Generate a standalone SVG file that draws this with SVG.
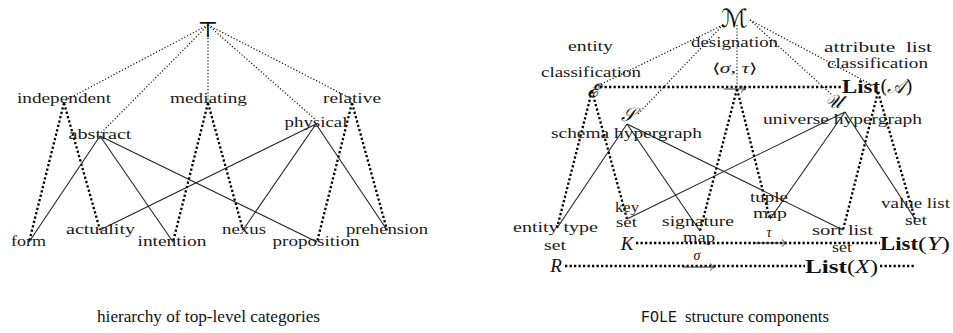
<svg xmlns="http://www.w3.org/2000/svg" width="953" height="333" viewBox="0 0 953 333">
<style>
  .lbl{font-family:"Liberation Serif",serif;font-size:14px;fill:#1a1a1a}
  .cap{font-family:"Liberation Serif",serif;font-size:17px;fill:#111}
  .mono{font-family:"Liberation Mono",monospace;font-size:17px;fill:#111}
  .math{font-family:"Liberation Serif",serif;font-style:italic;fill:#111}
  .cal{font-family:"DejaVu Serif","DejaVu Sans",serif;fill:#111}
  .bold{font-family:"Liberation Serif",serif;font-weight:bold;fill:#111}
  .thin{fill:none;stroke:#111;stroke-width:1.2;stroke-dasharray:1.2 2}
  .thick{fill:none;stroke:#000;stroke-width:2.3;stroke-dasharray:2.3 2.2}
  .solid{fill:none;stroke:#222;stroke-width:1.1}
  .arr{fill:none;stroke:#333;stroke-width:1;marker-end:url(#hook)}
</style>
<defs>
  <marker id="hook" markerWidth="8" markerHeight="8" refX="6" refY="4" orient="auto" markerUnits="userSpaceOnUse">
    <path d="M1,0.5 Q3.5,3.5 6,4 Q3.5,4.5 1,7.5" fill="none" stroke="#333" stroke-width="1"/>
  </marker>
</defs>
<rect width="953" height="333" fill="#fff"/>

<g id="connectors">
  <!-- left: top to mid -->
  <path class="thin" d="M208,25 L64,101"/>
  <path class="thin" d="M208,25 L100,134"/>
  <path class="thin" d="M208,25 L208,103"/>
  <path class="thin" d="M208,25 L316,120"/>
  <path class="thin" d="M208,25 L352,99"/>
  <!-- left: thick dotted -->
  <path class="thick" d="M64,103 L29,242"/>
  <path class="thick" d="M64,103 L100,230"/>
  <path class="thick" d="M208,103 L173,242"/>
  <path class="thick" d="M208,103 L243,230"/>
  <path class="thick" d="M352,103 L317,242"/>
  <path class="thick" d="M352,103 L387,230"/>
  <!-- left: solid -->
  <path class="solid" d="M100,136 L29,242"/>
  <path class="solid" d="M100,136 L173,242"/>
  <path class="solid" d="M100,136 L317,242"/>
  <path class="solid" d="M316,124 L100,230"/>
  <path class="solid" d="M316,124 L243,230"/>
  <path class="solid" d="M316,124 L387,230"/>

  <!-- right: top to mid -->
  <path class="thin" d="M723,25 L593,88"/>
  <path class="thin" d="M723,25 L637,115"/>
  <path class="thin" d="M737,25 L737,87"/>
  <path class="thin" d="M750,20 L832,95"/>
  <path class="thin" d="M750,20 L874,86"/>
  <!-- right: horizontal thick dotted -->
  <path class="thick" d="M600,87 L842,87"/>
  <path class="thick" d="M636,243 L880,243"/>
  <path class="thick" d="M565,266 L805,266 M880,266 L915,266"/>
  <!-- right: thick dotted mid to bottom -->
  <path class="thick" d="M592,91 L557,228"/>
  <path class="thick" d="M592,91 L627,219"/>
  <path class="thick" d="M737,89 L700,231"/>
  <path class="thick" d="M737,89 L770,219"/>
  <path class="thick" d="M878,92 L843,230"/>
  <path class="thick" d="M878,92 L915,219"/>
  <!-- right: solid -->
  <path class="solid" d="M627,124 L557,228"/>
  <path class="solid" d="M627,124 L700,231"/>
  <path class="solid" d="M627,124 L843,230"/>
  <path class="solid" d="M845,112 L627,219"/>
  <path class="solid" d="M845,112 L770,219"/>
  <path class="solid" d="M845,112 L915,219"/>
</g>

<!-- left hierarchy nodes -->
<g id="top"><text class="cal" x="208" y="37" font-size="22" text-anchor="middle" fill="#555">⊤</text></g>
<g id="independent"><text class="lbl" x="17" y="103" textLength="94" lengthAdjust="spacingAndGlyphs">independent</text></g>
<g id="mediating"><text class="lbl" x="170" y="103" textLength="77" lengthAdjust="spacingAndGlyphs">mediating</text></g>
<g id="relative"><text class="lbl" x="323" y="103" textLength="58" lengthAdjust="spacingAndGlyphs">relative</text></g>
<g id="abstract"><text class="lbl" x="68.5" y="139" textLength="63" lengthAdjust="spacingAndGlyphs">abstract</text></g>
<g id="physical"><text class="lbl" x="284.5" y="127" textLength="63" lengthAdjust="spacingAndGlyphs">physical</text></g>
<g id="form"><text class="lbl" x="11" y="246" textLength="35" lengthAdjust="spacingAndGlyphs">form</text></g>
<g id="actuality"><text class="lbl" x="66" y="234" textLength="69" lengthAdjust="spacingAndGlyphs">actuality</text></g>
<g id="intention"><text class="lbl" x="137.5" y="246" textLength="69" lengthAdjust="spacingAndGlyphs">intention</text></g>
<g id="nexus"><text class="lbl" x="222" y="234" textLength="44" lengthAdjust="spacingAndGlyphs">nexus</text></g>
<g id="proposition"><text class="lbl" x="272.5" y="246" textLength="87" lengthAdjust="spacingAndGlyphs">proposition</text></g>
<g id="prehension"><text class="lbl" x="346" y="234" textLength="82" lengthAdjust="spacingAndGlyphs">prehension</text></g>
<g id="caption-left"><text class="cap" x="97" y="322" textLength="223" lengthAdjust="spacingAndGlyphs">hierarchy of top-level categories</text></g>

<!-- right FOLE nodes -->
<g id="M"><text class="cal" x="734" y="27" font-size="25" text-anchor="middle" font-style="italic">ℳ</text></g>
<g id="E">
  <text class="lbl" x="568" y="51" textLength="45" lengthAdjust="spacingAndGlyphs">entity</text>
  <text class="lbl" x="541" y="77" textLength="100" lengthAdjust="spacingAndGlyphs">classification</text>
  <text class="cal" x="592" y="97" font-size="19" text-anchor="middle" font-style="italic">𝓔</text>
</g>
<g id="designation">
  <text class="lbl" x="691" y="47" textLength="87" lengthAdjust="spacingAndGlyphs">designation</text>
  <text class="lbl" x="712" y="73" textLength="45" lengthAdjust="spacingAndGlyphs">⟨<tspan font-style="italic">σ</tspan>, <tspan font-style="italic">τ</tspan>⟩</text>
  <path class="arr" d="M724,89 L746,89"/>
</g>
<g id="listA">
  <text class="lbl" x="824" y="52" textLength="108" lengthAdjust="spacingAndGlyphs" xml:space="preserve">attribute  list</text>
  <text class="lbl" x="827" y="68" textLength="101" lengthAdjust="spacingAndGlyphs">classification</text>
  <text class="bold" x="842" y="93" font-size="19" textLength="38" lengthAdjust="spacingAndGlyphs">List</text>
  <text class="cal" x="880" y="93" font-size="19">(<tspan font-style="italic">𝒜</tspan>)</text>
</g>
<g id="S">
  <text class="cal" x="628" y="121" font-size="19" text-anchor="middle" font-style="italic">𝒮</text>
  <text class="lbl" x="551" y="138" textLength="151" lengthAdjust="spacingAndGlyphs">schema hypergraph</text>
</g>
<g id="U">
  <text class="cal" x="833" y="108" font-size="19" text-anchor="middle" font-style="italic">𝒰</text>
  <text class="lbl" x="763" y="124" textLength="159" lengthAdjust="spacingAndGlyphs">universe hypergraph</text>
</g>
<g id="R">
  <text class="lbl" x="513" y="232" textLength="85" lengthAdjust="spacingAndGlyphs">entity type</text>
  <text class="lbl" x="544" y="250" textLength="22" lengthAdjust="spacingAndGlyphs">set</text>
  <text class="math" x="556" y="272" font-size="19" text-anchor="middle">R</text>
</g>
<g id="K">
  <text class="lbl" x="615" y="212" textLength="24" lengthAdjust="spacingAndGlyphs">key</text>
  <text class="lbl" x="616" y="227" textLength="21" lengthAdjust="spacingAndGlyphs">set</text>
  <text class="math" x="627" y="250" font-size="19" text-anchor="middle">K</text>
</g>
<g id="sigma">
  <text class="lbl" x="662" y="226" textLength="72" lengthAdjust="spacingAndGlyphs">signature</text>
  <text class="lbl" x="683" y="242" textLength="32" lengthAdjust="spacingAndGlyphs">map</text>
  <text class="math" x="697" y="260" font-size="14" text-anchor="middle">σ</text>
  <path class="arr" d="M683,267 L715,267"/>
</g>
<g id="tau">
  <text class="lbl" x="750" y="202" textLength="38" lengthAdjust="spacingAndGlyphs">tuple</text>
  <text class="lbl" x="753" y="218" textLength="34" lengthAdjust="spacingAndGlyphs">map</text>
  <text class="math" x="769" y="237" font-size="14" text-anchor="middle">τ</text>
  <path class="arr" d="M755,243 L787,243"/>
</g>
<g id="listX">
  <text class="lbl" x="812" y="235" textLength="61" lengthAdjust="spacingAndGlyphs">sort list</text>
  <text class="lbl" x="832" y="252" textLength="20" lengthAdjust="spacingAndGlyphs">set</text>
  <text class="bold" x="805" y="273" font-size="19" textLength="42" lengthAdjust="spacingAndGlyphs">List</text>
  <text class="math" x="847" y="273" font-size="19" textLength="31" lengthAdjust="spacingAndGlyphs"><tspan font-style="normal">(</tspan>X<tspan font-style="normal">)</tspan></text>
</g>
<g id="listY">
  <text class="lbl" x="881" y="208" textLength="69" lengthAdjust="spacingAndGlyphs">value list</text>
  <text class="lbl" x="905" y="225" textLength="22" lengthAdjust="spacingAndGlyphs">set</text>
  <text class="bold" x="880" y="250" font-size="19" textLength="38" lengthAdjust="spacingAndGlyphs">List</text>
  <text class="math" x="918" y="250" font-size="19" textLength="32" lengthAdjust="spacingAndGlyphs"><tspan font-style="normal">(</tspan>Y<tspan font-style="normal">)</tspan></text>
</g>
<g id="caption-right">
  <text class="mono" x="641" y="322" textLength="36" lengthAdjust="spacingAndGlyphs">FOLE</text>
  <text class="cap" x="685" y="322" textLength="144" lengthAdjust="spacingAndGlyphs">structure components</text>
</g>
</svg>
